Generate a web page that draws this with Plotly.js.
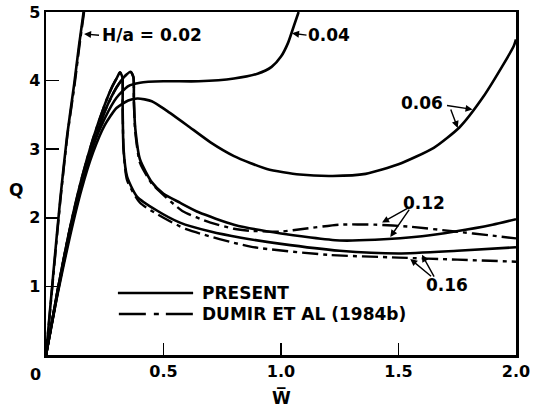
<!DOCTYPE html>
<html>
<head>
<meta charset="utf-8">
<script src="https://cdn.plot.ly/plotly-3.0.1.min.js"></script>
<style>html,body{margin:0;padding:0;background:#fff;}#chart{width:533px;height:411px;}</style>
</head>
<body>
<div id="chart"></div>
<script>
// ---- data (W-bar vs Q) ----
const xTickVals = [0.5, 1.0, 1.5, 2.0];
const xTickText = ['0.5', '1.0', '1.5', '2.0'];
const yTickVals = [1, 2, 3, 4, 5];
const yTickText = ['1', '2', '3', '4', '5'];

// H/a = 0.02
const w002 = [0, 0.03, 0.06, 0.09, 0.12, 0.14, 0.16];
const q002 = [0, 1.15, 2.25, 3.2, 3.95, 4.5, 5.0];
const w002d = [0, 0.031, 0.061, 0.091, 0.122, 0.142, 0.162];
const q002d = [0, 1.15, 2.25, 3.2, 3.95, 4.5, 5.0];

// H/a = 0.04
const w004 = [0, 0.05, 0.1, 0.15, 0.2, 0.25, 0.3, 0.35, 0.4, 0.5, 0.65, 0.8, 0.9, 0.96, 1.0, 1.03, 1.055, 1.075];
const q004 = [0, 0.95, 1.8, 2.5, 3.05, 3.45, 3.75, 3.92, 3.97, 3.99, 3.99, 4.03, 4.1, 4.2, 4.35, 4.55, 4.8, 5.0];

// H/a = 0.06
const w006 = [0, 0.05, 0.1, 0.15, 0.2, 0.25, 0.3, 0.35, 0.39, 0.45, 0.51, 0.6, 0.7, 0.8, 0.94, 1.08, 1.22, 1.36, 1.5, 1.65, 1.76, 1.86, 1.94, 1.99, 2.0];
const q006 = [0, 0.9, 1.7, 2.4, 2.95, 3.35, 3.6, 3.71, 3.74, 3.7, 3.57, 3.35, 3.1, 2.9, 2.71, 2.63, 2.61, 2.64, 2.78, 3.02, 3.32, 3.76, 4.2, 4.5, 4.6];

// H/a = 0.12 present
const w012 = [0, 0.05, 0.1, 0.15, 0.2, 0.25, 0.3, 0.34, 0.36, 0.372, 0.374, 0.38, 0.40, 0.45, 0.5, 0.57, 0.65, 0.8, 1.0, 1.25, 1.4, 1.6, 1.74, 1.9, 2.0];
const q012 = [0, 0.92, 1.75, 2.45, 3.05, 3.55, 3.9, 4.08, 4.13, 4.05, 3.7, 3.3, 2.85, 2.52, 2.35, 2.22, 2.08, 1.9, 1.77, 1.67, 1.68, 1.73, 1.8, 1.9, 1.98];
// H/a = 0.12 Dumir et al
const w012d = [0, 0.05, 0.1, 0.15, 0.2, 0.25, 0.3, 0.34, 0.36, 0.372, 0.374, 0.38, 0.40, 0.45, 0.485, 0.58, 0.70, 0.80, 0.87, 1.0, 1.1, 1.25, 1.4, 1.55, 1.74, 1.9, 2.0];
const q012d = [0, 0.92, 1.75, 2.45, 3.05, 3.55, 3.9, 4.08, 4.13, 4.05, 3.7, 3.25, 2.8, 2.5, 2.38, 2.1, 1.93, 1.84, 1.81, 1.8, 1.84, 1.9, 1.9, 1.87, 1.8, 1.74, 1.7];

// H/a = 0.16 present
const w016 = [0, 0.05, 0.1, 0.15, 0.2, 0.25, 0.28, 0.3, 0.315, 0.325, 0.326, 0.33, 0.345, 0.387, 0.47, 0.57, 0.7, 0.83, 1.0, 1.25, 1.5, 1.75, 2.0];
const q016 = [0, 0.95, 1.82, 2.55, 3.15, 3.65, 3.9, 4.03, 4.12, 4.05, 3.65, 3.0, 2.6, 2.31, 2.11, 1.93, 1.8, 1.71, 1.62, 1.52, 1.48, 1.52, 1.57];
// H/a = 0.16 Dumir et al
const w016d = [0, 0.05, 0.1, 0.15, 0.2, 0.25, 0.28, 0.3, 0.315, 0.325, 0.326, 0.33, 0.345, 0.4, 0.5, 0.6, 0.87, 1.2, 1.5, 1.75, 2.0];
const q016d = [0, 0.95, 1.82, 2.55, 3.15, 3.65, 3.9, 4.03, 4.12, 4.05, 3.65, 3.0, 2.55, 2.22, 2.0, 1.83, 1.58, 1.46, 1.42, 1.39, 1.36];

// ---- styling ----
const FONT = 'DejaVu Sans, Arial, sans-serif';
const solid = {color: '#000', width: 2.6, shape: 'spline', smoothing: 0.6};
const dashdot = {color: '#000', width: 2.4, dash: '16px,5px,4px,5px', shape: 'spline', smoothing: 0.6};

function tr(x, y, line) {
  return {x: x, y: y, type: 'scatter', mode: 'lines', line: line, showlegend: false, hoverinfo: 'skip', cliponaxis: true};
}

const data = [
  tr(w002, q002, solid),
  tr(w002d, q002d, dashdot),
  tr(w004, q004, solid),
  tr(w006, q006, solid),
  tr(w012d, q012d, dashdot),
  tr(w016d, q016d, dashdot),
  tr(w012, q012, solid),
  tr(w016, q016, solid)
];

const tf = {family: FONT, size: 16, color: '#000', weight: 'bold'};
const lf = {family: FONT, size: 17, color: '#000', weight: 'bold'};

function label(text, x, y, extra) {
  return Object.assign({text: text, x: x, y: y, xref: 'x', yref: 'y', showarrow: false, font: lf, xanchor: 'center', yanchor: 'middle'}, extra || {});
}
function arrow(tipx, tipy, tailx, taily) {
  return {text: '', x: tipx, y: tipy, ax: tailx, ay: taily, xref: 'x', yref: 'y', axref: 'x', ayref: 'y',
          showarrow: true, arrowhead: 2, arrowsize: 1, arrowwidth: 1.4, arrowcolor: '#000', standoff: 0, startstandoff: 0};
}

const annotations = [
  label('H/a = 0.02', 0.451, 4.66),
  arrow(0.162, 4.68, 0.232, 4.66),
  label('0.04', 1.205, 4.66),
  arrow(1.047, 4.69, 1.115, 4.66),
  label('0.06', 1.6, 3.67),
  arrow(1.815, 3.58, 1.70, 3.64),
  arrow(1.752, 3.31, 1.72, 3.60),
  label('0.12', 1.609, 2.216),
  arrow(1.43, 1.93, 1.55, 2.16),
  arrow(1.465, 1.72, 1.55, 2.14),
  label('0.16', 1.706, 1.02),
  arrow(1.55, 1.40, 1.645, 1.13),
  arrow(1.60, 1.46, 1.655, 1.12),
  // legend texts
  label('PRESENT', 0.655, 0.904, {xanchor: 'left'}),
  label('DUMIR ET AL (1984b)', 0.655, 0.598, {xanchor: 'left'}),
  // axis titles and origin label
  {text: 'Q', xref: 'paper', yref: 'y', x: -0.064, y: 2.41, showarrow: false, font: lf, xanchor: 'center', yanchor: 'middle'},
  {text: 'W\u0305', xref: 'x', yref: 'paper', x: 1.0, y: -0.125, showarrow: false, font: lf, xanchor: 'center', yanchor: 'middle'},
  {text: '0', xref: 'paper', yref: 'paper', x: -0.0234, y: -0.058, showarrow: false, font: tf, xanchor: 'center', yanchor: 'middle'}
];

const shapes = [
  {type: 'line', xref: 'x', yref: 'y', x0: 0.306, x1: 0.626, y0: 0.904, y1: 0.904, line: {color: '#000', width: 2.6}},
  {type: 'line', xref: 'x', yref: 'y', x0: 0.31, x1: 0.634, y0: 0.598, y1: 0.598, line: {color: '#000', width: 2.4, dash: '27px,8px,5px,7px'}}
];

const layout = {
  width: 533, height: 411,
  margin: {l: 46, r: 17, t: 12, b: 56, pad: 0},
  paper_bgcolor: '#fff', plot_bgcolor: '#fff',
  showlegend: false,
  xaxis: {
    range: [0, 2], tickmode: 'array', tickvals: xTickVals, ticktext: xTickText,
    ticks: 'inside', ticklen: 12, tickwidth: 1.6, tickcolor: '#000',
    showline: true, linewidth: 2.5, linecolor: '#000', mirror: true,
    showgrid: false, zeroline: false, tickfont: tf, fixedrange: true
  },
  yaxis: {
    range: [0, 5], tickmode: 'array', tickvals: yTickVals, ticktext: yTickText,
    ticks: 'inside', ticklen: 13, tickwidth: 1.6, tickcolor: '#000',
    showline: true, linewidth: 2.5, linecolor: '#000', mirror: true,
    showgrid: false, zeroline: false, tickfont: tf, fixedrange: true
  },
  annotations: annotations,
  shapes: shapes
};

Plotly.newPlot('chart', data, layout, {staticPlot: true, displayModeBar: false});
</script>
</body>
</html>
